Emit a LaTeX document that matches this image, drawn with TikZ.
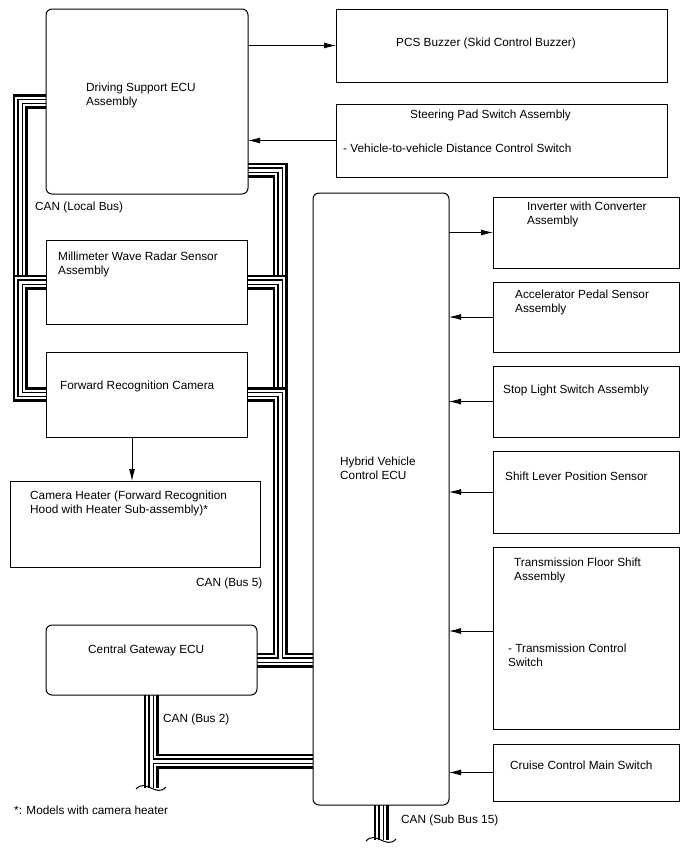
\documentclass[tikz,border=0pt]{standalone}
\usepackage{fontspec}
\setmainfont{Liberation Sans}
\usetikzlibrary{arrows.meta,calc,backgrounds}

\begin{document}
\begin{tikzpicture}[
    x=1pt, y=-1pt,
    box/.style={rectangle, draw, line width=1pt, anchor=north west, inner sep=0pt, outer sep=0pt},
    rbox/.style={box, rounded corners=6pt},
    txt/.style={anchor=base west, inner sep=0pt, align=left, font=\fontsize{11.8}{14}\selectfont},
    arrow/.style={-{Latex[length=12pt,width=6pt]}, line width=0.8pt},
    canbus/.style={line width=15pt, draw=black, postaction={draw=white, line width=9.5pt}, postaction={draw=black, line width=5.5pt}, postaction={draw=white, line width=3pt}},
    brk/.style={line width=1pt}
]
\useasboundingbox (0,0) rectangle (688,852);

% left column
\node[rbox, minimum width=202pt, minimum height=185pt] (dsecu) at (46,9) {};
\node[txt] (dsecu-t) at (86,105) {Driving Support ECU\\Assembly};
\node[box, minimum width=201pt, minimum height=84pt] (mmw) at (46,240) {};
\node[txt] (mmw-t) at (58,274) {Millimeter Wave Radar Sensor\\Assembly};
\node[box, minimum width=201pt, minimum height=85pt] (cam) at (46,352) {};
\node[txt] (cam-t) at (60,389) {Forward Recognition Camera};
\node[box, minimum width=250pt, minimum height=86pt] (heater) at (10,481) {};
\node[txt] (heater-t) at (30,513) {Camera Heater (Forward Recognition\\Hood with Heater Sub-assembly)*};
\node[rbox, minimum width=211pt, minimum height=70pt] (cgw) at (46,625) {};
\node[txt] (cgw-t) at (88,653) {Central Gateway ECU};

% top right
\node[box, minimum width=331pt, minimum height=73pt] (pcs) at (336,9) {};
\node[txt] (pcs-t) at (396,46) {PCS Buzzer (Skid Control Buzzer)};
\node[box, minimum width=331pt, minimum height=73pt] (spsw) at (336,104) {};
\node[txt] (spsw-t) at (410,118) {Steering Pad Switch Assembly};
\node[txt] (spsw-s) at (343,152) {- Vehicle-to-vehicle Distance Control Switch};

% hybrid ECU and its inputs
\node[rbox, minimum width=136pt, minimum height=612pt] (hv) at (313,193) {};
\node[txt] (hv-t) at (340,479) {Hybrid Vehicle\\Control ECU};
\node[box, minimum width=186pt, minimum height=71pt] (inv) at (493,197) {};
\node[txt] (inv-t) at (527,224) {Inverter with Converter\\Assembly};
\node[box, minimum width=186pt, minimum height=70pt] (acc) at (493,282) {};
\node[txt] (acc-t) at (515,312) {Accelerator Pedal Sensor\\Assembly};
\node[box, minimum width=186pt, minimum height=71pt] (stop) at (493,366) {};
\node[txt] (stop-t) at (503,393) {Stop Light Switch Assembly};
\node[box, minimum width=186pt, minimum height=82pt] (shift) at (493,451) {};
\node[txt] (shift-t) at (505,480) {Shift Lever Position Sensor};
\node[box, minimum width=186pt, minimum height=182pt] (trans) at (493,547) {};
\node[txt] (trans-t) at (514,580) {Transmission Floor Shift\\Assembly};
\node[txt] (trans-s) at (508,666) {- Transmission Control\\Switch};
\node[box, minimum width=186pt, minimum height=57pt] (cruise) at (493,744) {};
\node[txt] (cruise-t) at (510,769) {Cruise Control Main Switch};

% bus labels
\node[txt] (lbus-t) at (35,210) {CAN (Local Bus)};
\node[txt] (bus5-t) at (196,586) {CAN (Bus 5)};
\node[txt] (bus2-t) at (163,722) {CAN (Bus 2)};
\node[txt] (sb15-t) at (401,823) {CAN (Sub Bus 15)};
\node[txt] (note-t) at (14,814) {*: Models with camera heater};

\coordinate (lbus) at (20,300);
\coordinate (rbus) at (280,300);
\coordinate (b2tap) at (151,761);
\coordinate (b2end) at (151,788);
\coordinate (sb15end) at (381,840);

% CAN lines
\begin{scope}[on background layer]
\draw[canbus] (dsecu.west) -| (lbus |- mmw.west) -- (mmw.west);
\draw[canbus] (mmw.west) -| (lbus |- cam.west) -- (cam.west);
\draw[canbus] ([yshift=-68.5pt]dsecu.east) -| (rbus |- mmw.east) -- (mmw.east);
\draw[canbus] (mmw.east) -| (rbus |- cam.east) -- (cam.east);
\draw[canbus] (cam.east) -| (rbus |- cgw.east) (cgw.east) -- (hv.west |- cgw.east);
\draw[canbus] (cgw.south -| b2end) -- (b2end) (b2tap) -- (b2tap -| hv.west);
\draw[canbus] (hv.south -| sb15end) -- (sb15end);
\end{scope}
\draw[brk] ($(b2end)+(-15,1)$) .. controls +(10,-11) and +(-10,11) .. ($(b2end)+(15,-1)$);
\draw[brk] ($(sb15end)+(-15,1)$) .. controls +(10,-11) and +(-10,11) .. ($(sb15end)+(15,-1)$);

% signal lines
\draw[arrow] (dsecu.east |- pcs.west) -- (pcs.west);
\draw[arrow] (spsw.west) -- (dsecu.east |- spsw.west);
\draw[arrow] ([xshift=-14.5pt]cam.south) -- ([xshift=-14.5pt]cam.south |- heater.north);
\draw[arrow] (hv.east |- inv.west) -- (inv.west);
\draw[arrow] (acc.west) -- (hv.east |- acc.west);
\draw[arrow] (stop.west) -- (hv.east |- stop.west);
\draw[arrow] (shift.west) -- (hv.east |- shift.west);
\draw[arrow] ([yshift=7pt]trans.west) -- (hv.east |- 0,631);
\draw[arrow] (cruise.west) -- (hv.east |- cruise.west);
\end{tikzpicture}
\end{document}
